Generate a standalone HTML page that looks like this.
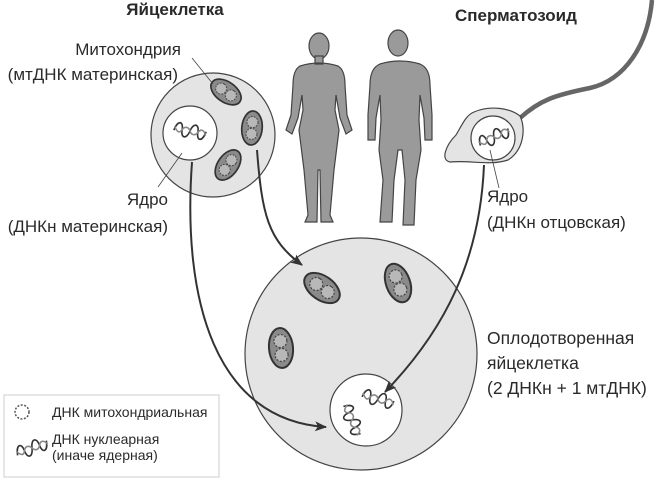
<!DOCTYPE html>
<html><head><meta charset="utf-8"><style>
html,body{margin:0;padding:0;background:#fff;}
svg{display:block;}
text{font-family:"Liberation Sans",sans-serif;fill:#2a2a2a;}
</style></head><body>
<svg width="659" height="488" viewBox="0 0 659 488" xmlns="http://www.w3.org/2000/svg">
<defs>
<g id="mito">
<ellipse cx="0" cy="0" rx="12" ry="20" fill="#8a8a8a" stroke="#333" stroke-width="2"/>
<circle cx="0" cy="-7" r="6.5" fill="#b8b8b8" stroke="#444" stroke-width="1.2" stroke-dasharray="2 1.5"/>
<circle cx="0" cy="7" r="6.5" fill="#b8b8b8" stroke="#444" stroke-width="1.2" stroke-dasharray="2 1.5"/>
</g>
<g id="dna">
<path d="M-16,2 C-14,-9 -8,-9 -8,0 C-8,9 -2,9 0,0 C2,-9 8,-9 8,0 C8,9 14,9 16,-2" fill="none" stroke="#333" stroke-width="1.6"/>
<path d="M-16,-2 C-12,4 -10,4 -8,0 M-8,0 C-6,-4 -2,-4 0,0 C2,4 6,4 8,0 C10,-4 14,-4 16,2" fill="none" stroke="#888" stroke-width="1.6"/>
</g>
<marker id="ar" markerWidth="12" markerHeight="10" refX="11" refY="5" orient="auto" markerUnits="userSpaceOnUse"><path d="M0,0 L12,5 L0,10 L3,5 Z" fill="#333"/></marker>
</defs>

<text x="175" y="15" font-size="17" font-weight="bold" text-anchor="middle">Яйцеклетка</text>
<text x="455" y="21" font-size="17" font-weight="bold">Сперматозоид</text>

<!-- egg -->
<circle cx="213" cy="135" r="62" fill="#e4e4e4" stroke="#444" stroke-width="1.2"/>
<circle cx="190" cy="133" r="27" fill="#fff" stroke="#444" stroke-width="1.2"/>
<use href="#dna" transform="translate(190,131) rotate(10)"/>
<use href="#mito" transform="translate(226,92) rotate(-55) scale(0.85)"/>
<use href="#mito" transform="translate(252,128) rotate(5) scale(0.85)"/>
<use href="#mito" transform="translate(228,165) rotate(35) scale(0.85)"/>
<line x1="192" y1="58" x2="213" y2="84" stroke="#444" stroke-width="0.8"/>
<line x1="182" y1="153" x2="158" y2="187" stroke="#444" stroke-width="0.8"/>
<text x="181" y="55" font-size="17" text-anchor="end">Митохондрия</text>
<text x="178" y="80" font-size="17" text-anchor="end">(мтДНК материнская)</text>
<text x="168" y="205" font-size="17" text-anchor="end">Ядро</text>
<text x="168" y="232" font-size="17" text-anchor="end">(ДНКн материнская)</text>

<!-- humans -->
<ellipse cx="319" cy="46" rx="10" ry="13" fill="#9a9a9a" stroke="#444" stroke-width="1.2"/>
<path d="M300,66 Q319,60 338,66 Q345,70 345,85 L347,115 L352,130 L346,134 L340,118 L336,95 L335,110 L339,130 L334,170 L330,215 L333,222 L321,222 L320,170 L318,170 L317,222 L305,222 L308,215 L304,170 L299,130 L303,110 L302,95 L298,118 L292,134 L286,130 L291,115 L293,85 Q293,70 300,66 Z M315,56 L323,56 L323,64 L315,64 Z" fill="#9a9a9a" stroke="#444" stroke-width="1.2"/>
<ellipse cx="398" cy="43" rx="10" ry="13" fill="#9a9a9a" stroke="#444" stroke-width="1.2"/>
<path d="M380,64 Q400,58 420,64 Q430,68 430,85 L432,115 L432,140 L425,140 L424,118 L420,95 L419,120 L421,150 L416,180 L414,225 L403,225 L405,180 L402,150 L398,150 L394,180 L392,222 L380,222 L383,180 L379,150 L381,120 L380,95 L376,118 L375,140 L368,140 L368,115 L370,85 Q370,68 380,64 Z" fill="#9a9a9a" stroke="#444" stroke-width="1.2"/>

<!-- sperm -->
<path d="M520,118 C540,100 555,95 590,88 C625,80 648,45 652,0" fill="none" stroke="#666" stroke-width="4.5"/>
<path d="M474,112 C490,105 510,108 520,116 C526,128 524,150 508,160 C490,166 470,160 450,162 C440,160 446,145 456,135 C462,125 466,115 474,112 Z" fill="#e4e4e4" stroke="#444" stroke-width="1.2"/>
<circle cx="493" cy="138" r="22" fill="#fff" stroke="#444" stroke-width="1.2"/>
<use href="#dna" transform="translate(494,137) rotate(-25)"/>
<line x1="490" y1="150" x2="499" y2="188" stroke="#444" stroke-width="0.8"/>
<text x="487" y="202" font-size="17">Ядро</text>
<text x="487" y="228" font-size="17">(ДНКн отцовская)</text>

<!-- fertilized -->
<circle cx="361" cy="354" r="116" fill="#e4e4e4" stroke="#444" stroke-width="1.2"/>
<circle cx="366" cy="410" r="36" fill="#fff" stroke="#444" stroke-width="1.2"/>
<use href="#dna" transform="translate(378,399) rotate(15)"/>
<use href="#dna" transform="translate(352,420) rotate(65)"/>
<use href="#mito" transform="translate(322,288) rotate(-55)"/>
<use href="#mito" transform="translate(398,283) rotate(-20)"/>
<use href="#mito" transform="translate(281,348) rotate(-5)"/>
<text x="487" y="344" font-size="17.5">Оплодотворенная</text>
<text x="487" y="369" font-size="17.5">яйцеклетка</text>
<text x="487" y="394" font-size="17.5">(2 ДНКн + 1 мтДНК)</text>

<!-- arrows -->
<path d="M192,162 C182,300 215,420 326,427" fill="none" stroke="#333" stroke-width="2" marker-end="url(#ar)"/>
<path d="M257,150 C262,215 268,240 302,265" fill="none" stroke="#333" stroke-width="2" marker-end="url(#ar)"/>
<path d="M484,165 C480,260 445,330 385,392" fill="none" stroke="#333" stroke-width="2" marker-end="url(#ar)"/>

<!-- legend -->
<rect x="4" y="395" width="215" height="82" fill="#fff" stroke="#ccc" stroke-width="1"/>
<circle cx="22" cy="412" r="7" fill="none" stroke="#555" stroke-width="1.5" stroke-dasharray="2 1.5"/>
<text x="52" y="417" font-size="14">ДНК митохондриальная</text>
<use href="#dna" transform="translate(32,448) rotate(-20)"/>
<text x="52" y="444" font-size="14">ДНК нуклеарная</text>
<text x="52" y="460" font-size="14">(иначе ядерная)</text>
</svg>
</body></html>
